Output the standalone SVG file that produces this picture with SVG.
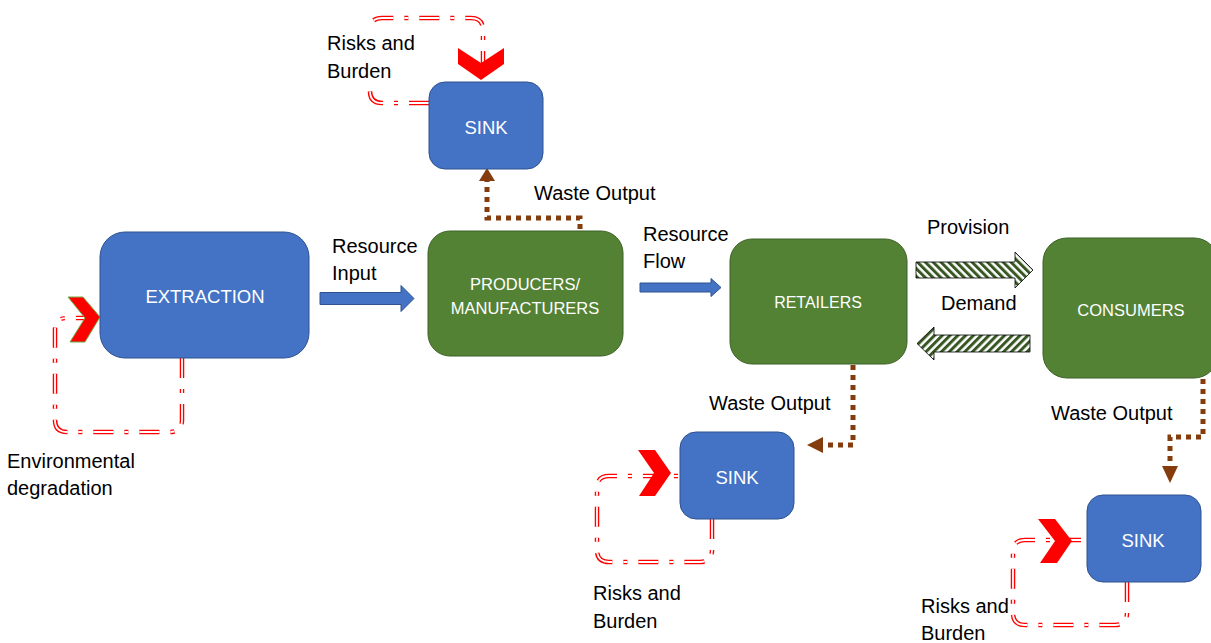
<svg xmlns="http://www.w3.org/2000/svg" width="1211" height="643" viewBox="0 0 1211 643">
<style>
.lbl{font-family:"Liberation Sans",Arial,sans-serif;font-size:20px;fill:#000}
.ntx{font-family:"Liberation Sans",Arial,sans-serif;fill:#fff;text-anchor:middle}
.blue{fill:#4472C4;stroke:#2F528F;stroke-width:1}
.green{fill:#548235;stroke:#3D6126;stroke-width:1}
.risk{fill:none;stroke:#FF0000;stroke-width:4.5;stroke-dasharray:20 11 4 11}
.riskin{fill:none;stroke:#fff;stroke-width:1.8;stroke-dasharray:20 11 4 11}
.waste{fill:none;stroke:#843C0C;stroke-width:5;stroke-dasharray:5 5}
.whead{fill:#843C0C}
.chev{fill:#FF0000}
.flow{fill:#4472C4;stroke:#2F528F;stroke-width:1}
</style>
<defs>
<pattern id="hatchR" width="5.5" height="5.5" patternUnits="userSpaceOnUse" patternTransform="rotate(-45)"><rect width="5.5" height="5.5" fill="#fff"/><rect width="3" height="5.5" fill="#385723"/></pattern>
<pattern id="hatchL" width="5.5" height="5.5" patternUnits="userSpaceOnUse" patternTransform="rotate(45)"><rect width="5.5" height="5.5" fill="#fff"/><rect width="3" height="5.5" fill="#385723"/></pattern>
<path id="loopTop" d="M 429 103 H 382 Q 370 103 370 91 V 30 Q 370 18 382 18 H 471 Q 483 18 483 30 V 82"/>
<path id="loopExt" d="M 182 358 V 420 Q 182 432 170 432 H 67 Q 55 432 55 420 V 330 Q 55 318 67 318 H 100"/>
<path id="loopMid" d="M 712 519 V 550 Q 712 562 700 562 H 609 Q 597 562 597 550 V 488 Q 597 476 609 476 H 680"/>
<path id="loopBR" d="M 1127 582 V 613 Q 1127 625 1115 625 H 1025 Q 1013 625 1013 613 V 552 Q 1013 540 1025 540 H 1087"/>
</defs>
<rect width="1211" height="643" fill="#fff"/>

<g id="connectors">
  <use href="#loopTop" class="risk"/><use href="#loopTop" class="riskin"/>
  <use href="#loopExt" class="risk"/><use href="#loopExt" class="riskin"/>
  <use href="#loopMid" class="risk"/><use href="#loopMid" class="riskin"/>
  <use href="#loopBR" class="risk"/><use href="#loopBR" class="riskin"/>
  <path class="waste" d="M 580 229 V 218 H 487 V 180"/>
  <polygon class="whead" points="487,168 479,181 495,181"/>
  <path class="waste" d="M 853 365 V 445 H 823"/>
  <polygon class="whead" points="807,445 823,437 823,453"/>
  <path class="waste" d="M 1203 379 V 437 H 1170 V 466"/>
  <polygon class="whead" points="1170,483 1162,466 1178,466"/>
  <polygon class="flow" points="320,292.5 401,292.5 401,285.5 414,298.5 401,311.5 401,304.5 320,304.5"/>
  <polygon class="flow" points="640,283 711,283 711,278.5 721,287.5 711,296.5 711,292 640,292"/>
  <polygon fill="url(#hatchR)" stroke="#000" stroke-width="0.8" points="916,262 1015,262 1015,252 1033,270 1015,288 1015,278 916,278"/>
  <polygon fill="url(#hatchL)" stroke="#000" stroke-width="0.8" points="1030,335 934,335 934,327 917,343.5 934,360 934,352 1030,352"/>
  <polygon class="chev" points="458,48 481,63 504,48 504,64 481,80 458,64"/>
  <polygon class="chev" stroke="#70AD47" stroke-width="1" points="68,297 83,297 100,317 85,342 70,342 85,318"/>
  <polygon class="chev" points="638,450 655,450 671,473 655,496 639,496 654,473"/>
  <polygon class="chev" points="1038,519 1055,519 1072,541 1057,563 1040,563 1055,541"/>
</g>

<g id="label-risks-top">
  <rect x="325" y="30" width="92" height="56" fill="#fff"/>
  <text class="lbl" x="327" y="50">Risks and</text>
  <text class="lbl" x="327" y="78">Burden</text>
</g>
<g id="node-sink-top">
  <rect class="blue" x="429" y="82" width="114" height="87" rx="16"/>
  <text class="ntx" x="486" y="133.5" font-size="18.5">SINK</text>
</g>
<g id="node-extraction">
  <rect class="blue" x="100" y="232" width="209" height="126" rx="25"/>
  <text class="ntx" x="205" y="302.5" font-size="18.5">EXTRACTION</text>
</g>
<g id="node-producers">
  <rect class="green" x="428" y="231" width="195" height="125" rx="22"/>
  <text class="ntx" x="525" y="290" font-size="16.5">PRODUCERS/</text>
  <text class="ntx" x="525" y="314" font-size="16.5">MANUFACTURERS</text>
</g>
<g id="node-retailers">
  <rect class="green" x="730" y="239" width="177" height="125" rx="22"/>
  <text class="ntx" x="818" y="308" font-size="16">RETAILERS</text>
</g>
<g id="node-consumers">
  <rect class="green" x="1043" y="238" width="175" height="140" rx="24" stroke="#C5D9B5"/>
  <text class="ntx" x="1131" y="316" font-size="16.5">CONSUMERS</text>
</g>
<g id="node-sink-mid">
  <rect class="blue" x="680" y="432" width="114" height="87" rx="16"/>
  <text class="ntx" x="737" y="483.5" font-size="18.5">SINK</text>
</g>
<g id="node-sink-br">
  <rect class="blue" x="1087" y="495" width="114" height="87" rx="16"/>
  <text class="ntx" x="1143" y="546.5" font-size="18.5">SINK</text>
</g>

<g id="labels">
  <text class="lbl" x="534" y="200" font-size="20.5">Waste Output</text>
  <text class="lbl" x="332" y="253">Resource</text>
  <text class="lbl" x="332" y="280">Input</text>
  <text class="lbl" x="643" y="241">Resource</text>
  <text class="lbl" x="643" y="268">Flow</text>
  <text class="lbl" x="927" y="234">Provision</text>
  <text class="lbl" x="941" y="310">Demand</text>
  <text class="lbl" x="709" y="410" font-size="20.5">Waste Output</text>
  <text class="lbl" x="1051" y="420" font-size="20.5">Waste Output</text>
  <text class="lbl" x="7" y="468">Environmental</text>
  <text class="lbl" x="7" y="495">degradation</text>
  <text class="lbl" x="593" y="600">Risks and</text>
  <text class="lbl" x="593" y="628">Burden</text>
  <text class="lbl" x="921" y="613">Risks and</text>
  <text class="lbl" x="921" y="640">Burden</text>
</g>
</svg>
